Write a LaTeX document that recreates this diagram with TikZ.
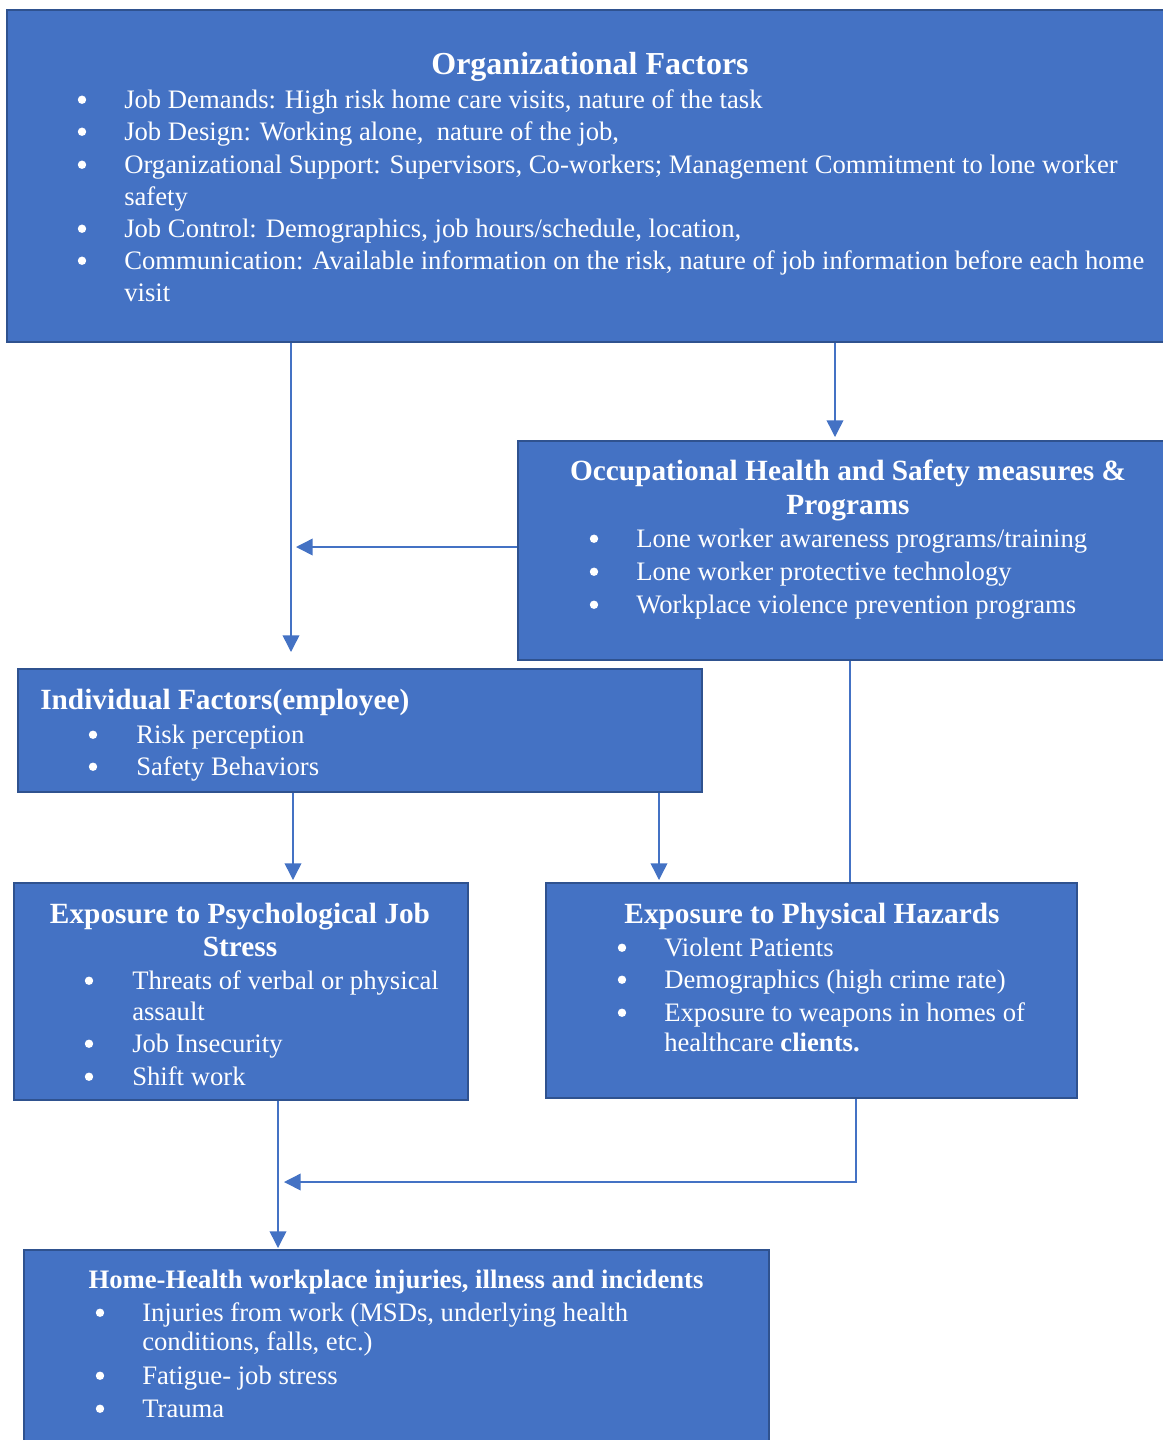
\documentclass[tikz,border=0pt]{standalone}
\usepackage{fontspec}
\setmainfont{Liberation Serif}
\usetikzlibrary{arrows.meta,fit}
\definecolor{boxfill}{HTML}{4472C4}
\definecolor{boxline}{HTML}{2F528F}
\definecolor{arrcol}{HTML}{4472C4}
\begin{document}
\begin{tikzpicture}[x=0.75pt,y=-0.75pt,
 box/.style={draw=boxline, line width=1.5pt, fill=boxfill, inner sep=0pt},
 body/.style={text=white, font=\fontsize{20}{24}\selectfont, anchor=base west, inner sep=0pt},
 bul/.style={circle, fill=white, inner sep=0pt, minimum size=6.3pt, yshift=6.2pt},
 ttl/.style={text=white, font=\fontsize{22}{26}\bfseries\selectfont, anchor=base, inner sep=0pt},
 conn/.style={draw=arrcol, line width=1.1pt},
 arr/.style={conn, -{Triangle[length=12.5pt,width=12.5pt]}}]
\useasboundingbox (0,0) rectangle (1163,1440);

% boxes
\node[box, fit={(7,10) (1175,342)}] (org) {};
\node[box, fit={(518,441) (1175,660)}] (ohs) {};
\node[box, fit={(18,669) (702,792)}] (ind) {};
\node[box, fit={(14,883) (468,1100)}] (psy) {};
\node[box, fit={(546,883) (1077,1098)}] (phy) {};
\node[box, fit={(24,1250) (769,1455)}] (home) {};

% Organizational factors
\node[ttl, font=\fontsize{24}{26}\bfseries\selectfont] (orgT) at (590,74) {Organizational Factors};
\node[bul] (ob1) at (82,108) {};
\node[body] (ot1) at (124,108) {Job Demands: High risk home care visits, nature of the task};
\node[bul] (ob2) at (82,140) {};
\node[body] (ot2) at (124,140) {Job Design: Working alone,\ \ nature of the job,};
\node[bul] (ob3) at (82,173) {};
\node[body] (ot3) at (124,173) {Organizational Support: Supervisors, Co-workers; Management Commitment to lone worker};
\node[body] (ot3b) at (124,205) {safety};
\node[bul] (ob4) at (82,237) {};
\node[body] (ot4) at (124,237) {Job Control: Demographics, job hours/schedule, location,};
\node[bul] (ob5) at (82,269) {};
\node[body] (ot5) at (124,269) {Communication: Available information on the risk, nature of job information before each home};
\node[body] (ot5b) at (124,301) {visit};

% OHS
\node[ttl] (ohsT1) at (848,480) {Occupational Health and Safety measures \&};
\node[ttl] (ohsT2) at (848,514) {Programs};
\node[bul] (hb1) at (594,547) {};
\node[body] (ht1) at (636,547) {Lone worker awareness programs/training};
\node[bul] (hb2) at (594,580) {};
\node[body] (ht2) at (636,580) {Lone worker protective technology};
\node[bul] (hb3) at (594,613) {};
\node[body] (ht3) at (636,613) {Workplace violence prevention programs};

% Individual
\node[ttl, anchor=base west] (indT) at (40,709) {Individual Factors(employee)};
\node[bul] (ib1) at (93,743) {};
\node[body] (it1) at (136,743) {Risk perception};
\node[bul] (ib2) at (93,775) {};
\node[body] (it2) at (136,775) {Safety Behaviors};

% Psychological
\node[ttl] (psyT1) at (240,923) {Exposure to Psychological Job};
\node[ttl] (psyT2) at (240,956) {Stress};
\node[bul] (pb1) at (89,989) {};
\node[body] (pt1) at (132,989) {Threats of verbal or physical};
\node[body] (pt1b) at (132,1020) {assault};
\node[bul] (pb2) at (89,1052) {};
\node[body] (pt2) at (132,1052) {Job Insecurity};
\node[bul] (pb3) at (89,1085) {};
\node[body] (pt3) at (132,1085) {Shift work};

% Physical
\node[ttl] (phyT) at (812,923) {Exposure to Physical Hazards};
\node[bul] (yb1) at (622,956) {};
\node[body] (yt1) at (664,956) {Violent Patients};
\node[bul] (yb2) at (622,988) {};
\node[body] (yt2) at (664,988) {Demographics (high crime rate)};
\node[bul] (yb3) at (622,1021) {};
\node[body] (yt3) at (664,1021) {Exposure to weapons in homes of};
\node[body] (yt3b) at (664,1051) {healthcare \textbf{clients.}};

% Home health
\node[ttl, font=\fontsize{20}{24}\bfseries\selectfont] (homeT) at (396,1288) {Home-Health workplace injuries, illness and incidents};
\node[bul] (mb1) at (100,1321) {};
\node[body] (mt1) at (142,1321) {Injuries from work (MSDs, underlying health};
\node[body] (mt1b) at (142,1350) {conditions, falls, etc.)};
\node[bul] (mb2) at (100,1384) {};
\node[body] (mt2) at (142,1384) {Fatigue- job stress};
\node[bul] (mb3) at (100,1417) {};
\node[body] (mt3) at (142,1417) {Trauma};

% connectors
\coordinate (c1) at (291,652);
\draw[arr] (org.south -| c1) -- (c1);
\coordinate (c2) at (835,437);
\draw[arr] (org.south -| c2) -- (c2);
\coordinate (c3) at (296,547);
\draw[arr] (ohs.west |- c3) -- (c3);
\coordinate (c4) at (293,880);
\draw[arr] (ind.south -| c4) -- (c4);
\coordinate (c5) at (659,880);
\draw[arr] (ind.south -| c5) -- (c5);
\coordinate (c6) at (850,660);
\draw[conn] (ohs.south -| c6) -- (phy.north -| c6);
\coordinate (c7) at (278,1248);
\draw[arr] (psy.south -| c7) -- (c7);
\coordinate (c8) at (856,1182);
\coordinate (c9) at (284,1182);
\draw[arr] (phy.south -| c8) -- (c8) -- (c9);
\end{tikzpicture}
\end{document}
